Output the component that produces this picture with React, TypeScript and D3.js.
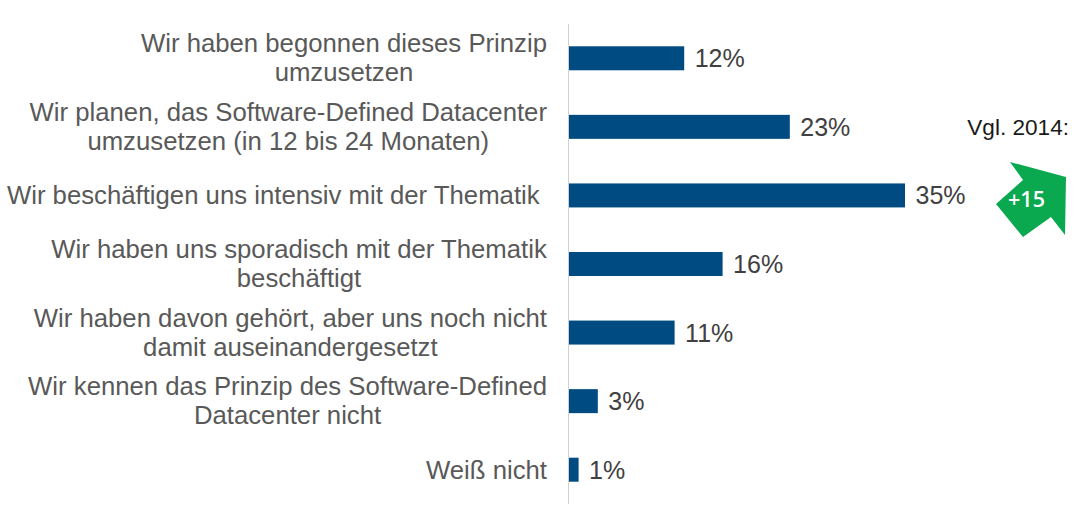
import React from 'react';
import * as d3 from 'd3';

const categories = [
  ['Wir haben begonnen dieses Prinzip', 'umzusetzen'],
  ['Wir planen, das Software-Defined Datacenter', 'umzusetzen (in 12 bis 24 Monaten)'],
  ['Wir beschäftigen uns intensiv mit der Thematik '],
  ['Wir haben uns sporadisch mit der Thematik', 'beschäftigt'],
  ['Wir haben davon gehört, aber uns noch nicht', 'damit auseinandergesetzt'],
  ['Wir kennen das Prinzip des Software-Defined', 'Datacenter nicht'],
  ['Weiß nicht'],
];
const values = [12, 23, 35, 16, 11, 3, 1];

const width = 1086;
const height = 512;
const font = '"Liberation Sans", Arial, sans-serif';
const labelSize = 25.72;

// second lines are centred under the first one, so the block width is needed
const ctx = document.createElement('canvas').getContext('2d')!;
ctx.font = `${labelSize}px "Liberation Sans"`;

const App: React.FC = () => {
  const x = d3.scaleLinear().domain([0, 35]).range([569, 905]);
  const y = d3.scaleBand<number>()
    .domain(d3.range(values.length))
    .range([24, 504])
    .paddingInner(0.65)
    .paddingOuter(0.325);
  const arrow = d3.line()([
    [1010, 162], [1066, 177], [1065, 235], [1051, 217],
    [1023, 237], [996, 204], [1023, 180],
  ]) + 'Z';

  return (
    <svg width={width} height={height} style={{ position: 'absolute', left: 0, top: 0, background: '#fff' }}>
      <line x1={568.5} x2={568.5} y1={24} y2={504} stroke="#d0d0d0" strokeWidth={1} />
      {values.map((v, i) => {
        const cy = y(i)! + y.bandwidth() / 2;
        const lines = categories[i];
        const blockWidth = d3.max(lines, t => ctx.measureText(t).width)!;
        return (
          <g key={i}>
            <rect x={x(0)} y={y(i)} width={x(v) - x(0)} height={y.bandwidth()} fill="#004b81" />
            <text x={x(v) + 10.5} y={cy + 9} fontFamily={font} fontSize={25} fill="#404040">{v}%</text>
            {lines.map((t, j) => (
              <text
                key={j}
                x={547 - blockWidth / 2}
                y={cy + 9 + (lines.length > 1 ? (j - 0.5) * 29 - 0.5 : 0)}
                textAnchor="middle"
                xmlSpace="preserve"
                fontFamily={font}
                fontSize={labelSize}
                fill="#595959"
              >{t}</text>
            ))}
          </g>
        );
      })}
      <text x={1069} y={135} textAnchor="end" fontFamily={font} fontSize={22.6} fill="#1a1a1a">Vgl. 2014:</text>
      <path d={arrow} fill="#0aa84f" />
      <text x={1026.5} y={207} textAnchor="middle" fontFamily='"Open Sans", sans-serif' fontSize={21.5} fontWeight={600} fill="#fff">+15</text>
    </svg>
  );
};

export default App;
